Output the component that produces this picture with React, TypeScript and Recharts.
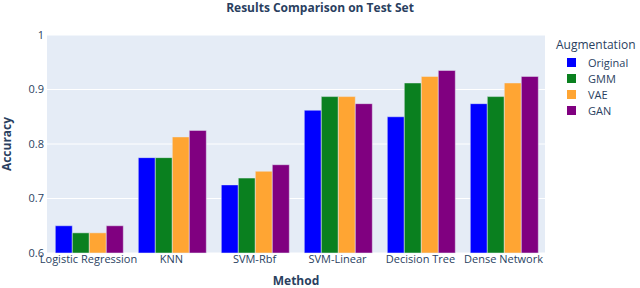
import React from 'react';
import { BarChart, Bar, XAxis, YAxis, CartesianGrid, Label } from 'recharts';

const methods = ['Logistic Regression', 'KNN', 'SVM-Rbf', 'SVM-Linear', 'Decision Tree', 'Dense Network'];
const original = [0.65, 0.775, 0.725, 0.862, 0.85, 0.874];
const gmm = [0.637, 0.775, 0.7375, 0.887, 0.912, 0.887];
const vae = [0.637, 0.813, 0.75, 0.887, 0.924, 0.912];
const gan = [0.65, 0.825, 0.762, 0.874, 0.935, 0.924];
const yTicks = [0.6, 0.7, 0.8, 0.9, 1];

const seriesNames = ['Original', 'GMM', 'VAE', 'GAN'];
const seriesColors = ['#0000ff', '#0a801f', '#ffa533', '#800080'];

const data = methods.map((m, i) => ({
  method: m,
  Original: original[i],
  GMM: gmm[i],
  VAE: vae[i],
  GAN: gan[i],
}));

const FONT = '"Open Sans", verdana, arial, sans-serif';
const TXT = '#2a3f5f';

const LegendBox = () => (
  <div style={{ position: 'absolute', left: 556, top: 37, fontFamily: FONT, color: TXT }}>
    <div style={{ fontSize: 12, lineHeight: '16px', marginBottom: 1 }}>Augmentation</div>
    {seriesNames.map((n, i) => (
      <div key={n} style={{ display: 'flex', alignItems: 'center', height: 16, fontSize: 11 }}>
        <span style={{ display: 'inline-block', width: 9, height: 9, background: seriesColors[i], marginLeft: 11, marginRight: 12 }} />
        <span>{n}</span>
      </div>
    ))}
  </div>
);

export default function App() {
  return (
    <div style={{ position: 'absolute', left: 0, top: 0, width: 640, height: 288, background: '#fff', fontFamily: FONT }}>
      <div style={{ position: 'absolute', left: 0, top: 1, width: 640, textAlign: 'center', fontSize: 12, lineHeight: '14px', fontWeight: 700, color: TXT, fontFamily: FONT }}>
        Results Comparison on Test Set
      </div>
      <BarChart
        width={640}
        height={288}
        data={data}
        margin={{ top: 35, right: 95, bottom: 0, left: 0 }}
        barCategoryGap="10%"
        barGap={0}
      >
        <CartesianGrid vertical={false} stroke="#ffffff" strokeWidth={1} fill="#e5ecf6" />
        <XAxis
          dataKey="method"
          interval={0}
          tickLine={false}
          axisLine={false}
          tickSize={0}
          tickMargin={2}
          height={35}
          tick={{ fontSize: 11, fill: TXT, fontFamily: FONT }}
        >
          <Label
            content={({ viewBox }: any) => (
              <text x={viewBox.x + viewBox.width / 2} y={285} textAnchor="middle" fontSize={12} fontWeight={700} fill={TXT} fontFamily={FONT}>
                Method
              </text>
            )}
          />
        </XAxis>
        <YAxis
          type="number"
          domain={[0.6, 1]}
          ticks={yTicks}
          interval={0}
          tickLine={false}
          axisLine={false}
          tickSize={0}
          tickMargin={3}
          width={47}
          tick={{ fontSize: 11, fill: TXT, fontFamily: FONT }}
        >
          <Label
            content={({ viewBox }: any) => (
              <text
                x={11}
                y={viewBox.y + viewBox.height / 2}
                transform={`rotate(-90, 11, ${viewBox.y + viewBox.height / 2})`}
                textAnchor="middle"
                fontSize={12}
                fontWeight={700}
                fill={TXT}
                fontFamily={FONT}
              >
                Accuracy
              </text>
            )}
          />
        </YAxis>
        {seriesNames.map((n, i) => (
          <Bar key={n} dataKey={n} fill={seriesColors[i]} stroke="#e5ecf6" strokeWidth={0.5} isAnimationActive={false} />
        ))}
      </BarChart>
      <LegendBox />
    </div>
  );
}
